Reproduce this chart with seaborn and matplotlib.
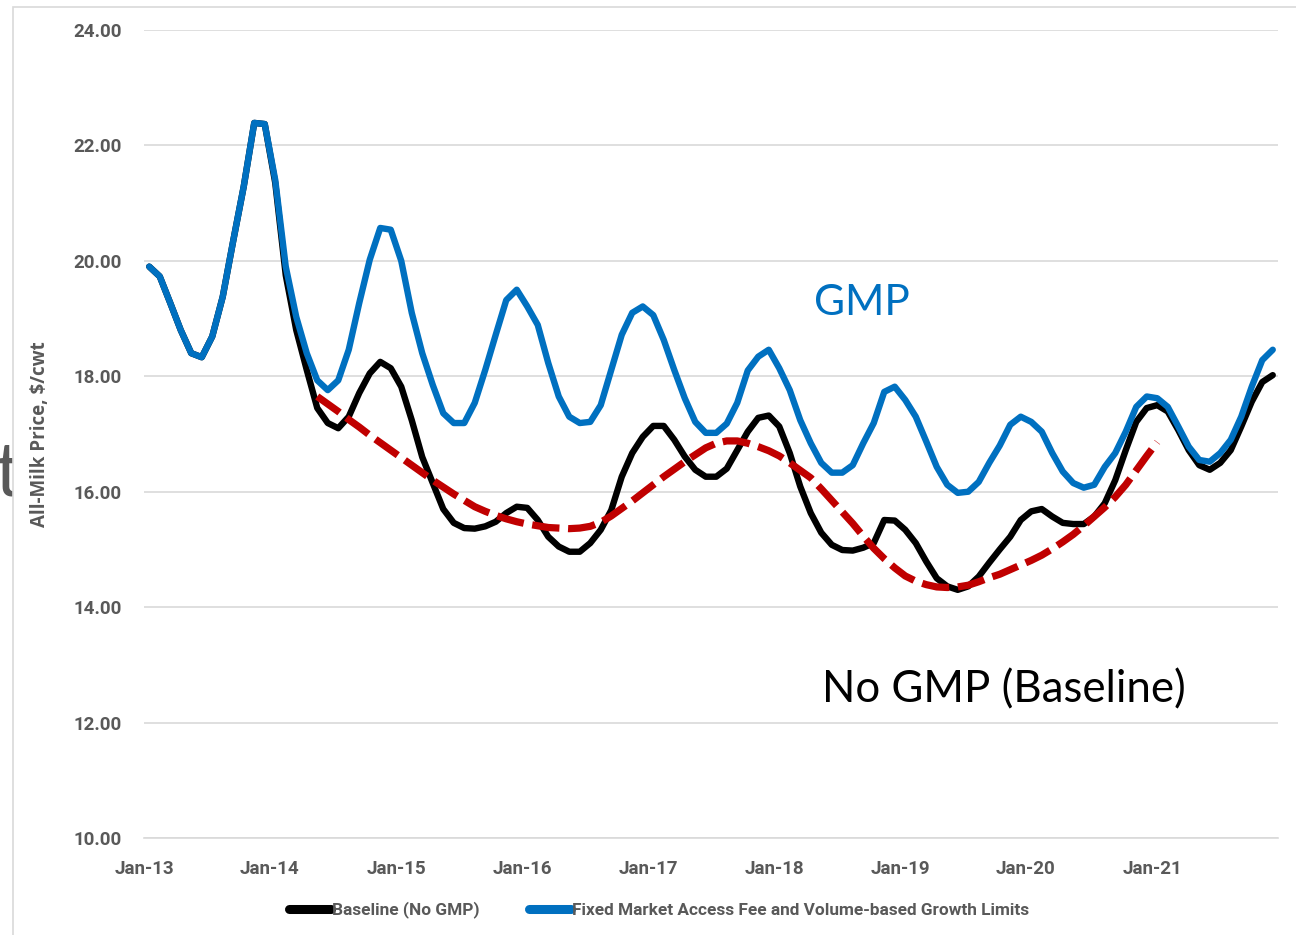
import numpy as np
import pandas as pd
import matplotlib.pyplot as plt
import seaborn as sns
from matplotlib.patches import Rectangle

# monthly all-milk price, Jan-13 .. Dec-21
months = pd.date_range('2013-01-01', '2021-12-01', freq='MS')

gmp = [19.90, 19.73, 19.27, 18.80, 18.40, 18.33, 18.69, 19.38, 20.35, 21.29, 22.39, 22.37,
       21.40, 19.90, 19.03, 18.40, 17.93, 17.76, 17.93, 18.46, 19.27, 20.02, 20.57, 20.54,
       20.00, 19.10, 18.40, 17.85, 17.36, 17.19, 17.19, 17.54, 18.11, 18.72, 19.32, 19.50,
       19.21, 18.89, 18.23, 17.65, 17.30, 17.19, 17.21, 17.50, 18.11, 18.72, 19.10, 19.21,
       19.06, 18.63, 18.11, 17.62, 17.21, 17.02, 17.02, 17.18, 17.54, 18.10, 18.34, 18.46,
       18.14, 17.76, 17.24, 16.84, 16.50, 16.33, 16.33, 16.46, 16.84, 17.19, 17.73, 17.82,
       17.59, 17.30, 16.87, 16.43, 16.12, 15.98, 16.00, 16.17, 16.50, 16.80, 17.16, 17.30,
       17.21, 17.04, 16.67, 16.35, 16.15, 16.07, 16.12, 16.43, 16.67, 17.04, 17.47, 17.65,
       17.62, 17.47, 17.13, 16.78, 16.55, 16.52, 16.67, 16.90, 17.30, 17.82, 18.28, 18.46]

baseline = [19.90, 19.73, 19.27, 18.80, 18.40, 18.33, 18.69, 19.38, 20.35, 21.29, 22.39, 22.37,
            21.35, 19.75, 18.80, 18.11, 17.45, 17.19, 17.10, 17.30, 17.71, 18.05, 18.25, 18.14,
            17.82, 17.24, 16.60, 16.15, 15.70, 15.46, 15.37, 15.36, 15.40, 15.48, 15.63, 15.74,
            15.72, 15.51, 15.22, 15.05, 14.96, 14.96, 15.11, 15.34, 15.68, 16.26, 16.67, 16.95,
            17.14, 17.14, 16.90, 16.61, 16.38, 16.26, 16.26, 16.40, 16.72, 17.04, 17.28, 17.32,
            17.13, 16.67, 16.09, 15.63, 15.29, 15.08, 14.99, 14.98, 15.03, 15.11, 15.51, 15.50,
            15.34, 15.11, 14.79, 14.50, 14.36, 14.30, 14.36, 14.53, 14.77, 15.00, 15.22, 15.51,
            15.66, 15.70, 15.57, 15.46, 15.44, 15.44, 15.57, 15.80, 16.20, 16.72, 17.21, 17.45,
            17.50, 17.39, 17.07, 16.72, 16.46, 16.38, 16.50, 16.72, 17.13, 17.56, 17.90, 18.02]

# red dashed trend of the baseline, May-14 .. Jan-21
trend_first = 16
trend = [17.65, 17.52, 17.39, 17.25, 17.12, 16.98, 16.85, 16.72, 16.59, 16.46, 16.33, 16.20,
         16.08, 15.96, 15.85, 15.74, 15.66, 15.59, 15.53, 15.48, 15.44, 15.41, 15.38, 15.37,
         15.36, 15.37, 15.40, 15.47, 15.58, 15.71, 15.84, 15.98, 16.12, 16.26, 16.39, 16.52,
         16.64, 16.76, 16.84, 16.88, 16.88, 16.84, 16.78, 16.71, 16.62, 16.50, 16.37, 16.24,
         16.05, 15.85, 15.65, 15.45, 15.23, 15.02, 14.84, 14.68, 14.54, 14.45, 14.39, 14.35,
         14.34, 14.35, 14.38, 14.44, 14.51, 14.57, 14.65, 14.73, 14.81, 14.90, 15.01, 15.13,
         15.26, 15.41, 15.57, 15.73, 15.91, 16.12, 16.37, 16.62, 16.86]

yticks = [10, 12, 14, 16, 18, 20, 22, 24]

sns.set_style('white')
plt.rcParams['font.family'] = ['Lato', 'DejaVu Sans']

grey = '#595959'
light = '#d9d9d9'
bold_font = ['Roboto', 'DejaVu Sans']

t = np.arange(len(months))
tt = np.arange(trend_first, trend_first + len(trend))

fig = plt.figure(figsize=(12.96, 9.35), dpi=100)
ax = fig.add_axes([144 / 1296, 1 - 838 / 935, 1134 / 1296, 808 / 935])
ax.set_facecolor('none')

# chart-area frame and the stray letter from the slide behind it
fig.text(-6 / 1296, 1 - 495 / 935, 't', fontsize=54, color=grey, zorder=-3)
fig.patches.append(Rectangle((13 / 1296, -0.1), 1.2, 1.1 - 7 / 935,
                             transform=fig.transFigure, facecolor='white',
                             edgecolor=light, lw=1.2, zorder=-2))

sns.lineplot(x=t, y=baseline, color='black', lw=4.6, ax=ax,
             label='Baseline (No GMP)', solid_joinstyle='round', solid_capstyle='round')
sns.lineplot(x=t, y=gmp, color='#0070C0', lw=4.6, ax=ax,
             label='Fixed Market Access Fee and Volume-based Growth Limits',
             solid_joinstyle='round', solid_capstyle='round')
ax.plot(tt, trend, color='#C00000', lw=5.2, ls=(0, (3.8, 1.2)), zorder=4)

ax.text(63.3, 19.06, 'GMP', color='#0070C0', fontsize=30.5, va='baseline')
ax.text(64.1, 12.34, 'No GMP (Baseline)', color='black', fontsize=31.5, va='baseline')

ax.set_xlim(-0.5, len(months) - 0.5)
ax.set_ylim(10, 24)
ax.set_yticks(yticks)
ax.set_yticklabels([f'{v:.2f}' for v in yticks])
ax.set_xticks(t[::12] - 0.5)
ax.set_xticklabels(months[::12].strftime('%b-%y'))

ax.grid(axis='y', color=light, lw=1.2)
ax.set_axisbelow(True)
for s in ['left', 'right', 'top']:
    ax.spines[s].set_visible(False)
ax.spines['bottom'].set_color(light)
ax.spines['bottom'].set_linewidth(1.2)

ax.tick_params(axis='y', length=0, pad=16, labelsize=13.5, labelcolor=grey)
ax.tick_params(axis='x', length=5, width=1.2, color=light, pad=11, labelsize=13.5, labelcolor=grey)
for lab in ax.get_xticklabels() + ax.get_yticklabels():
    lab.set_fontweight('bold')
    lab.set_family(bold_font)

ax.set_xlabel('')
ax.set_ylabel('All-Milk Price, $/cwt', color=grey, fontsize=13.5, fontweight='bold',
              family=['Open Sans', 'DejaVu Sans'])
ax.yaxis.set_label_coords(-94 / 1134, 0.5)

leg = ax.legend(loc='center', bbox_to_anchor=(659 / 1296, 1 - 910 / 935),
                bbox_transform=fig.transFigure, ncol=2, frameon=False,
                handlelength=2.45, handletextpad=0.05, columnspacing=2.9,
                prop={'size': 12.4, 'weight': 'bold', 'family': bold_font})
for txt in leg.get_texts():
    txt.set_color(grey)
for h in leg.get_lines():
    h.set_linewidth(6.5)
    h.set_solid_capstyle('round')

fig.savefig('out.png', dpi=100)
